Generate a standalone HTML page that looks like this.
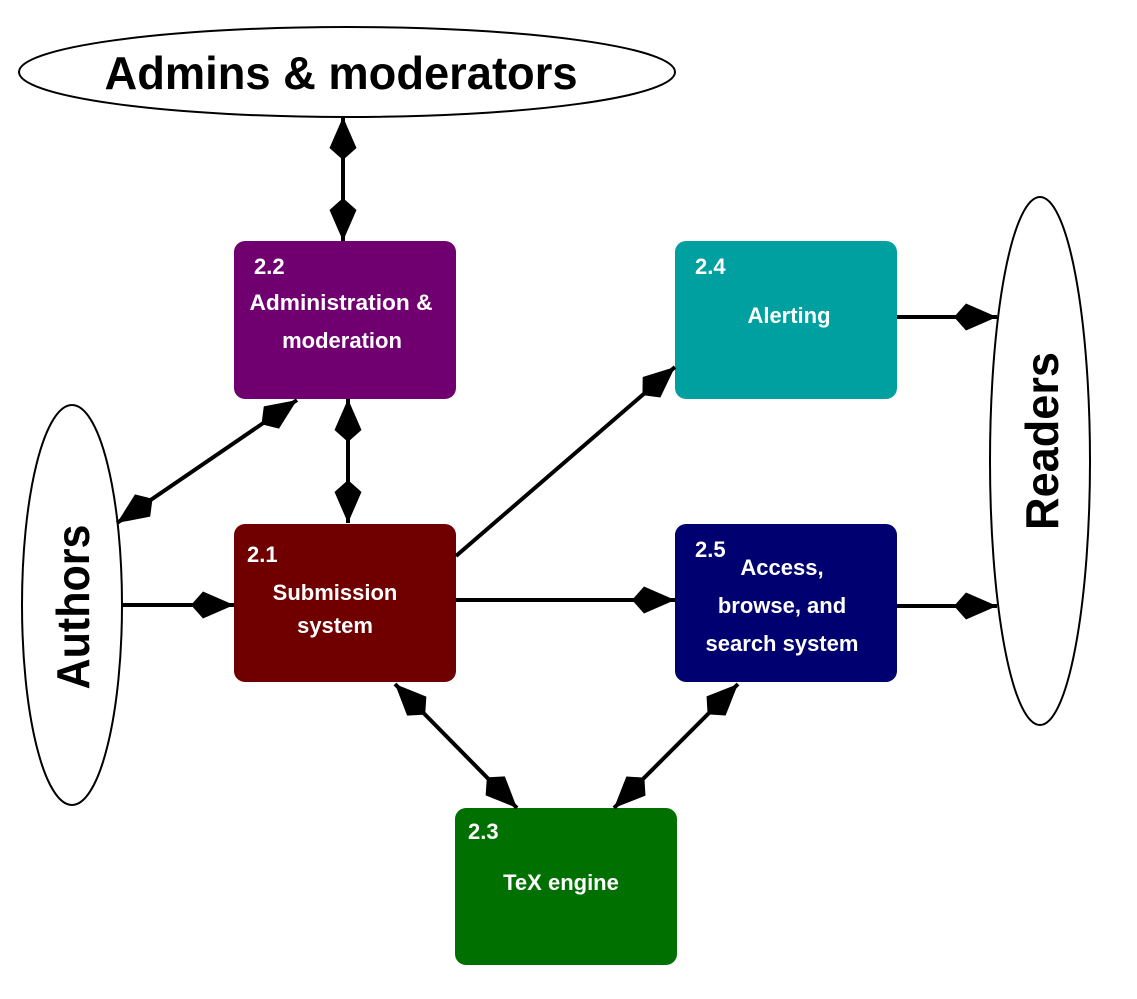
<!DOCTYPE html>
<html><head><meta charset="utf-8"><style>
html,body{margin:0;padding:0;background:#fff;}
svg{display:block;}
text{font-family:"Liberation Sans",sans-serif;font-weight:bold;}
.w{fill:#fff;font-size:22px;}
</style></head><body>
<svg width="1137" height="999" viewBox="0 0 1137 999" xmlns="http://www.w3.org/2000/svg">
<defs>
<marker id="d" viewBox="0 0 43 27" refX="43" refY="13.5" markerWidth="43" markerHeight="27" markerUnits="userSpaceOnUse" orient="auto-start-reverse">
<path d="M0,13.5 L12,0 L43,13.5 L12,27 Z" fill="#000"/>
</marker>
</defs>
<g fill="#fff" stroke="#000" stroke-width="2">
<ellipse cx="347" cy="72" rx="328" ry="45"/>
<ellipse cx="72" cy="605" rx="50" ry="200"/>
<ellipse cx="1040" cy="461" rx="50" ry="264"/>
</g>
<text x="341" y="89" font-size="46" text-anchor="middle" textLength="473" lengthAdjust="spacingAndGlyphs">Admins &amp; moderators</text>
<text transform="translate(89,607) rotate(-90)" font-size="46" text-anchor="middle" textLength="165" lengthAdjust="spacingAndGlyphs">Authors</text>
<text transform="translate(1058,441) rotate(-90)" font-size="46" text-anchor="middle" textLength="178" lengthAdjust="spacingAndGlyphs">Readers</text>

<rect x="234" y="241" width="222" height="158" rx="11" fill="#700070"/>
<rect x="675" y="241" width="222" height="158" rx="11" fill="#00A0A0"/>
<rect x="234" y="524" width="222" height="158" rx="11" fill="#700000"/>
<rect x="675" y="524" width="222" height="158" rx="11" fill="#000070"/>
<rect x="455" y="808" width="222" height="157" rx="11" fill="#007000"/>

<text class="w" x="254" y="274">2.2</text>
<text class="w" x="341" y="310" text-anchor="middle" textLength="183" lengthAdjust="spacingAndGlyphs">Administration &amp;</text>
<text class="w" x="342" y="348" text-anchor="middle">moderation</text>
<text class="w" x="695" y="274">2.4</text>
<text class="w" x="789" y="323" text-anchor="middle">Alerting</text>
<text class="w" x="247" y="562">2.1</text>
<text class="w" x="335" y="600" text-anchor="middle">Submission</text>
<text class="w" x="335" y="633" text-anchor="middle">system</text>
<text class="w" x="695" y="557">2.5</text>
<text class="w" x="782" y="575" text-anchor="middle">Access,</text>
<text class="w" x="782" y="613" text-anchor="middle">browse, and</text>
<text class="w" x="782" y="651" text-anchor="middle">search system</text>
<text class="w" x="468" y="839">2.3</text>
<text class="w" x="561" y="890" text-anchor="middle">TeX engine</text>

<g stroke="#000" stroke-width="4" fill="none">
<line x1="343" y1="117" x2="343" y2="241" marker-start="url(#d)" marker-end="url(#d)"/>
<line x1="348" y1="399" x2="348" y2="523" marker-start="url(#d)" marker-end="url(#d)"/>
<line x1="117" y1="523" x2="297" y2="400" marker-start="url(#d)" marker-end="url(#d)"/>
<line x1="122" y1="605" x2="234" y2="605" marker-end="url(#d)"/>
<line x1="456" y1="556" x2="675" y2="367" marker-end="url(#d)"/>
<line x1="456" y1="600" x2="675" y2="600" marker-end="url(#d)"/>
<line x1="897" y1="317" x2="997" y2="317" marker-end="url(#d)"/>
<line x1="897" y1="606" x2="997" y2="606" marker-end="url(#d)"/>
<line x1="395" y1="684" x2="517" y2="808" marker-start="url(#d)" marker-end="url(#d)"/>
<line x1="738" y1="684" x2="614" y2="808" marker-start="url(#d)" marker-end="url(#d)"/>
</g>
</svg>
</body></html>
